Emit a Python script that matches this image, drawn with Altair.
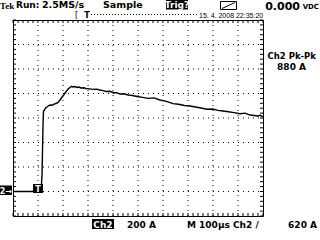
import altair as alt
import pandas as pd

# waveform (time in microseconds from left edge, current in A relative to ground)
t_us = [0, 68, 112, 116, 118, 120, 122, 126, 130, 136,
        142, 148, 156, 164, 172, 180, 188, 194, 200, 207,
        214, 221, 228, 234, 240, 248, 256, 264, 272, 282,
        292, 306, 320, 334, 348, 360, 372, 386, 400, 414,
        428, 444, 460, 478, 496, 518, 540, 564, 588, 614,
        640, 662, 686, 708, 730, 752, 776, 798, 820, 840,
        862, 884, 908, 928, 948, 964, 980, 990, 1000]
amp_a = [0, 0, 4, 127, 331, 535, 657, 665, 681, 690,
         700, 706, 704, 714, 718, 727, 747, 765, 780, 800,
         820, 838, 849, 858, 853, 857, 849, 853, 845, 847,
         841, 838, 834, 836, 829, 824, 816, 818, 808, 806,
         796, 798, 788, 784, 776, 768, 760, 764, 747, 736,
         717, 712, 702, 698, 690, 682, 671, 673, 662, 657,
         651, 644, 635, 640, 624, 620, 616, 622, 608]

grid_t = [100, 200, 300, 400, 500, 600, 700, 800, 900]
grid_a = [0, 200, 400, 600, 800, 1000, 1200]
minor_t = list(range(0, 1001, 20))
minor_a = list(range(-200, 1401, 40))

W, H = 250, 196
X0, Y0 = 13, 20

xs = alt.Scale(domain=[0, 1000], nice=False, zero=False)
ys = alt.Scale(domain=[-200, 1400], nice=False, zero=False)

wave = pd.DataFrame({"t": t_us, "a": amp_a})
gt = pd.DataFrame({"t": grid_t})
ga = pd.DataFrame({"a": grid_a})
mt = pd.DataFrame({"t": minor_t})
ma = pd.DataFrame({"a": minor_a})
one = pd.DataFrame({"d": [0]})

layers = []
# dotted grid
layers.append(alt.Chart(gt).mark_rule(color="black", strokeWidth=1, strokeDash=[1, 4]).encode(
    x=alt.X("t:Q", scale=xs, axis=None), y=alt.value(0), y2=alt.value(H)))
layers.append(alt.Chart(ga).mark_rule(color="black", strokeWidth=1, strokeDash=[1, 4]).encode(
    y=alt.Y("a:Q", scale=ys, axis=None), x=alt.value(0), x2=alt.value(W)))
# border ticks
layers.append(alt.Chart(mt).mark_rule(color="black", strokeWidth=1).encode(
    x=alt.X("t:Q", scale=xs, axis=None), y=alt.value(0), y2=alt.value(3)))
layers.append(alt.Chart(mt).mark_rule(color="black", strokeWidth=1).encode(
    x=alt.X("t:Q", scale=xs, axis=None), y=alt.value(H - 3), y2=alt.value(H)))
layers.append(alt.Chart(ma).mark_rule(color="black", strokeWidth=1).encode(
    y=alt.Y("a:Q", scale=ys, axis=None), x=alt.value(0), x2=alt.value(3)))
layers.append(alt.Chart(ma).mark_rule(color="black", strokeWidth=1).encode(
    y=alt.Y("a:Q", scale=ys, axis=None), x=alt.value(W - 3), x2=alt.value(W)))
# waveform
layers.append(alt.Chart(wave).mark_line(color="black", strokeWidth=1.4).encode(
    x=alt.X("t:Q", scale=xs, axis=None), y=alt.Y("a:Q", scale=ys, axis=None)))


def txt(s, xa, ya, size=10, weight="bold", color="black", font="DejaVu Sans", align="left"):
    return alt.Chart(one).mark_text(text=s, align=align, baseline="alphabetic", fontSize=size,
                                    fontWeight=weight, color=color, font=font).encode(
        x=alt.value(xa - X0), y=alt.value(ya - Y0))


def box(x1, y1, x2, y2, fill="black", stroke=None):
    kw = dict(fill=fill)
    if stroke:
        kw["stroke"] = stroke
        kw["strokeWidth"] = 1
    return alt.Chart(one).mark_rect(**kw).encode(
        x=alt.value(x1 - X0), x2=alt.value(x2 - X0), y=alt.value(y1 - Y0), y2=alt.value(y2 - Y0))


# top status line
layers.append(txt("Tek", 0, 8.5, size=9, font="Liberation Serif"))
layers.append(txt("Run:", 16, 8, size=9))
layers.append(txt("2.5MS/s", 42, 8, size=9.5))
layers.append(txt("Sample", 103, 8, size=9.5))
layers.append(box(166, 0, 188, 9.5))
layers.append(txt("Trig?", 177, 8, size=9, color="white", align="center"))
layers.append(box(220.5, 1.5, 236.5, 9.5, fill="white", stroke="black"))
layers.append(alt.Chart(one).mark_rule(color="black", strokeWidth=1).encode(
    x=alt.value(222 - X0), x2=alt.value(235 - X0), y=alt.value(8.5 - Y0), y2=alt.value(2.5 - Y0)))
layers.append(txt("0.000", 300, 9.5, size=11, align="right"))
layers.append(txt("VDC", 319, 8.5, size=7, align="right"))
# record ruler and date
layers.append(txt("[", 75, 18, size=8, weight="normal"))
layers.append(txt("T", 87, 18, size=8, align="center"))
layers.append(alt.Chart(one).mark_rule(color="black", strokeWidth=1, strokeDash=[1, 2]).encode(
    x=alt.value(91 - X0), x2=alt.value(198 - X0), y=alt.value(14.5 - Y0)))
layers.append(txt("15. 4. 2008 22:35:20", 199, 17.5, size=7, weight="normal", font="Liberation Sans"))
# bottom line
layers.append(box(92, 219, 114, 229))
layers.append(txt("Ch2", 103, 227.5, size=9, color="white", align="center"))
layers.append(txt("200 A", 127, 228, size=9))
layers.append(txt("M 100µs Ch2 /", 187, 228, size=9))
layers.append(txt("620 A", 317, 228, size=9, align="right"))
# measurement
layers.append(txt("Ch2 Pk-Pk", 316, 59, size=8.5, align="right"))
layers.append(txt("880 A", 306, 70, size=9, align="right"))
# ground and trigger markers
layers.append(box(0, 185.5, 12, 195))
layers.append(txt("2→", 6, 193.5, size=8, color="white", align="center"))
layers.append(box(33, 184, 43, 193))
layers.append(txt("T", 38, 191.5, size=8, color="white", align="center"))

chart = alt.layer(*layers).properties(
    width=W, height=H,
    autosize=alt.AutoSizeParams(type="none"),
    padding={"left": X0, "top": Y0, "right": 320 - X0 - W, "bottom": 240 - Y0 - H},
    background="white",
).configure_view(stroke="black", strokeWidth=1)

chart.save("out.html", embed_options={"renderer": "svg", "actions": False})
